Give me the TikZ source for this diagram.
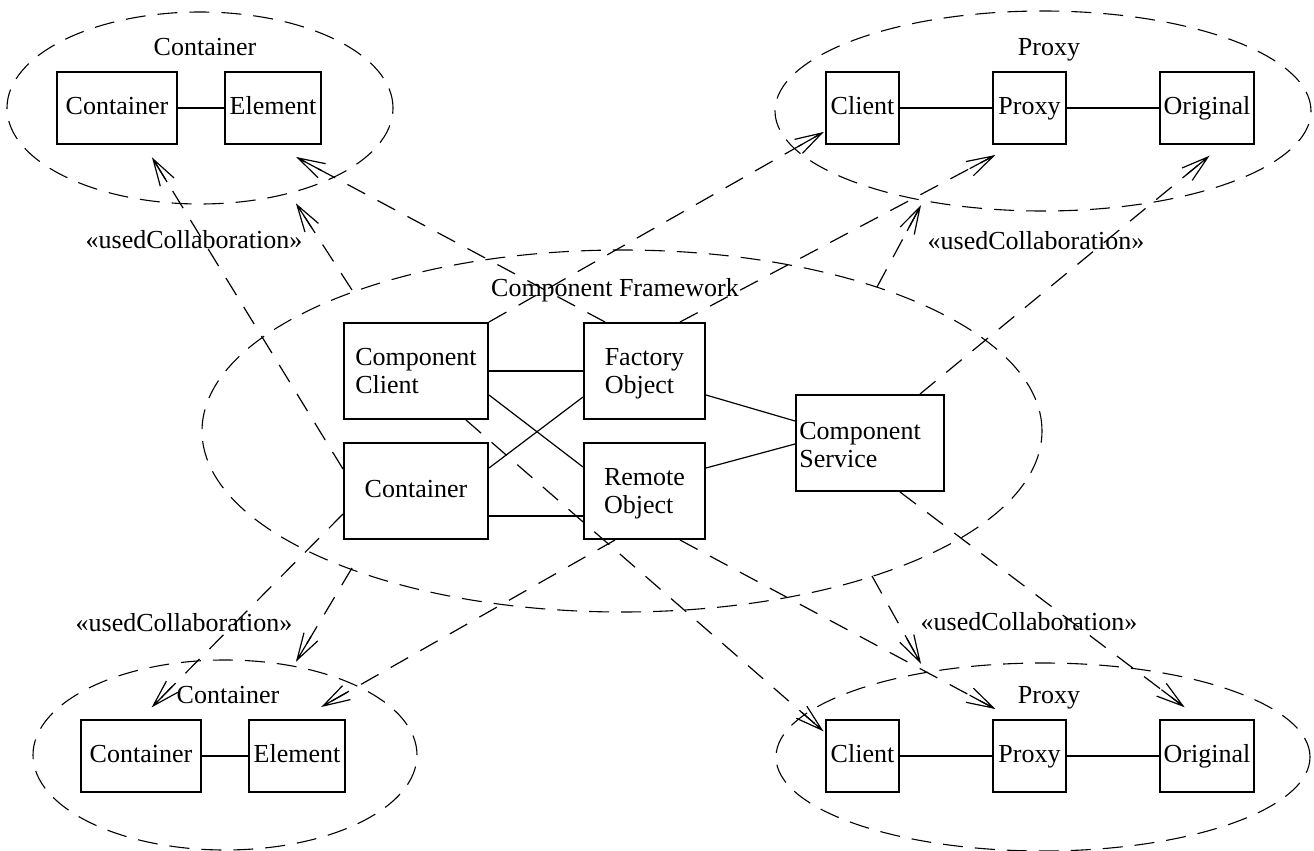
\documentclass[tikz,border=0pt]{standalone}
\usepackage{fontspec}
\setmainfont{Liberation Serif}
\usetikzlibrary{shapes.geometric,decorations.markings}
\tikzset{
  box/.style={draw, line width=1pt, minimum height=48pt, inner sep=1pt, align=left,
    font=\fontsize{13}{14}\selectfont, text depth=0pt},
  sbox/.style={box, minimum height=36pt, text height=9pt, text depth=2.5pt},
  coll/.style={draw, ellipse, dash pattern=on 10pt off 6pt, line width=0.55pt, inner sep=0pt},
  link/.style={line width=1pt},
  thinlink/.style={line width=0.6pt},
  dep/.style={dash pattern=on 10pt off 7pt, line width=0.6pt, postaction={decorate},
    decoration={markings, mark=at position 1 with {
      \draw[solid, line width=0.6pt] (-13.5pt,4pt) -- (0pt,0pt) -- (-13.5pt,-4pt)
        (0pt,0pt) -- (-13.5pt,0pt);}}},
  ttl/.style={font=\fontsize{13}{14}\selectfont, inner sep=0pt, anchor=base},
}
\begin{document}
\begin{tikzpicture}[x=0.5pt, y=-0.5pt]
\useasboundingbox (0,0) rectangle (1314,851);

% collaboration ellipses
\node[coll, minimum width=193pt, minimum height=96pt] (tl) at (200,108) {};
\node[coll, minimum width=268pt, minimum height=100pt] (tr) at (1043,111) {};
\node[coll, minimum width=420pt, minimum height=181pt] (cf) at (622,431) {};
\node[coll, minimum width=192pt, minimum height=95pt] (bl) at (225,755) {};
\node[coll, minimum width=267pt, minimum height=94pt] (br) at (1043,757) {};

% titles
\node[ttl] (tlt) at (205,55) {Container};
\node[ttl] (trt) at (1049,55) {Proxy};
\node[ttl] (cft) at (615,296) {Component Framework};
\node[ttl] (blt) at (228,703) {Container};
\node[ttl] (brt) at (1049,703) {Proxy};

% top-left boxes
\node[sbox, minimum width=60pt] (tlA) at (117,108) {Container};
\node[sbox, minimum width=48pt] (tlB) at (273,108) {Element};
% top-right boxes
\node[sbox, minimum width=36.5pt] (trA) at (862.5,108) {Client};
\node[sbox, minimum width=36.5pt] (trB) at (1029.5,108) {Proxy};
\node[sbox, minimum width=47pt] (trC) at (1207,108) {Original};
% bottom-left boxes
\node[sbox, minimum width=60pt] (blA) at (141,756) {Container};
\node[sbox, minimum width=48pt] (blB) at (297,756) {Element};
% bottom-right boxes
\node[sbox, minimum width=36.5pt] (brA) at (862.5,756) {Client};
\node[sbox, minimum width=36.5pt] (brB) at (1029.5,756) {Proxy};
\node[sbox, minimum width=47pt] (brC) at (1207,756) {Original};
% center boxes
\node[box, minimum width=72pt] (cc) at (416,371) {Component\\Client};
\node[box, minimum width=60.5pt] (fo) at (644.5,371) {Factory\\Object};
\node[box, minimum width=72pt, text height=9pt, text depth=2.5pt] (ct) at (416,491) {Container};
\node[box, minimum width=60.5pt] (ro) at (644.5,491) {Remote\\Object};
\node[draw, line width=1pt, minimum width=74pt, minimum height=48pt, inner sep=0pt] (cs) at (870,443) {};
\node[font=\fontsize{13}{14}\selectfont, align=left, anchor=west, inner sep=0pt] (cst) at ([xshift=2pt,yshift=-1pt]cs.west) {Component\\Service};

% links in outer collaborations
\draw[link] (tlA) -- (tlB);
\draw[link] (trA) -- (trB);
\draw[link] (trB) -- (trC);
\draw[link] (blA) -- (blB);
\draw[link] (brA) -- (brB);
\draw[link] (brB) -- (brC);

% links in component framework
\draw[link] (cc) -- (fo);
\draw[link] ([yshift=-12.5pt]ct.east) -- ([yshift=-12.5pt]ro.west);
\draw[thinlink] ([yshift=-12pt]cc.east) -- ([yshift=12pt]ro.west);
\draw[thinlink] ([yshift=11.5pt]ct.east) -- ([yshift=-13pt]fo.west);
\draw[thinlink] ([yshift=-12pt]fo.east) -- ([yshift=11pt]cs.west);
\draw[thinlink] ([yshift=11.5pt]ro.east) -- ([yshift=-0.5pt]cs.west);

% usedCollaboration labels
\node[ttl] (l1) at (194,248) {«usedCollaboration»};
\node[ttl] (l2) at (1036,249) {«usedCollaboration»};
\node[ttl] (l3) at (184,631) {«usedCollaboration»};
\node[ttl] (l4) at (1029,630) {«usedCollaboration»};

% collaboration-level dependencies
\coordinate (u1s) at (352,290); \coordinate (u1e) at (297,205);
\coordinate (u2s) at (877,287); \coordinate (u2e) at (920,207);
\coordinate (u3s) at (352,568); \coordinate (u3e) at (297,660);
\coordinate (u4s) at (872,576); \coordinate (u4e) at (920,662);
\draw[dep] (u1s) -- (u1e);
\draw[dep] (u2s) -- (u2e);
\draw[dep] (u3s) -- (u3e);
\draw[dep] (u4s) -- (u4e);

% role bindings
\draw[dep] ([yshift=11pt]ct.west) -- ([xshift=18pt,yshift=-7pt]tlA.south);
\draw[dep] ([xshift=-19.75pt]fo.north) -- ([xshift=12.5pt,yshift=-6.5pt]tlB.south);
\draw[dep] (cc.north east) -- ([xshift=-1.5pt,yshift=-12.5pt]trA.west);
\draw[dep] ([xshift=17.75pt]fo.north) -- ([xshift=-18pt,yshift=-5.5pt]trB.south);
\draw[dep] ([xshift=25pt]cs.north) -- ([xshift=0.5pt,yshift=-6pt]trC.south);
\draw[dep] ([yshift=-11.5pt]ct.west) -- ([xshift=6pt,yshift=6.5pt]blA.north);
\draw[dep] ([xshift=-14.75pt]ro.south) -- ([xshift=13pt,yshift=6.5pt]blB.north);
\draw[dep] ([xshift=25pt]cc.south) -- ([xshift=-1.5pt,yshift=13pt]brA.west);
\draw[dep] ([xshift=17.75pt]ro.south) -- ([xshift=-18pt,yshift=5.5pt]brB.north);
\draw[dep] ([xshift=15pt]cs.south) -- ([xshift=-12pt,yshift=6.5pt]brC.north);
\end{tikzpicture}
\end{document}
